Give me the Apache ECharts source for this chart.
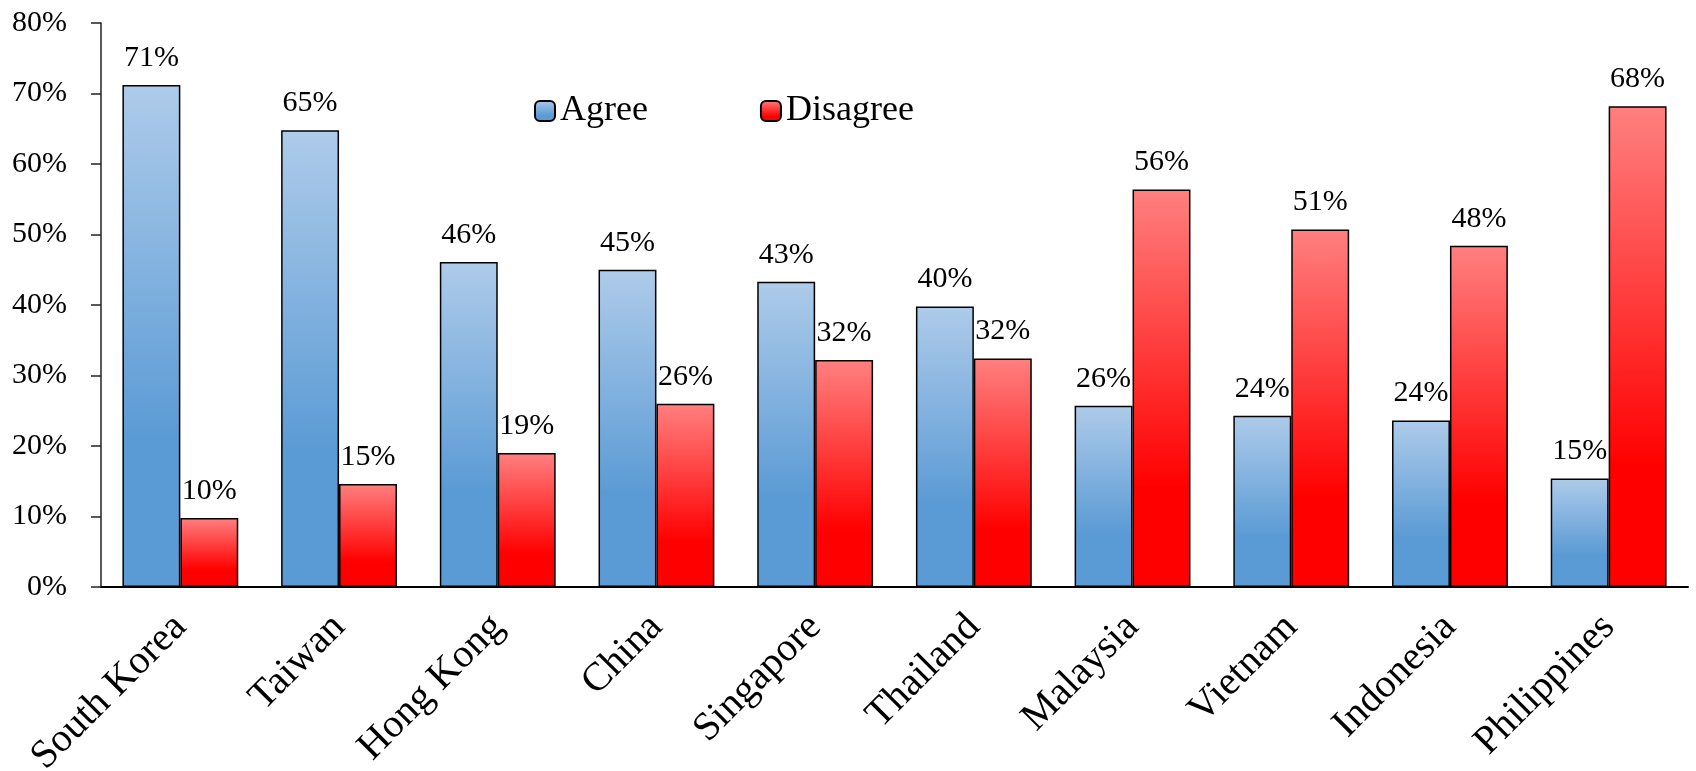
<!DOCTYPE html>
<html>
<head>
<meta charset="utf-8">
<script src="https://cdn.jsdelivr.net/npm/echarts@6/dist/echarts.min.js"></script>
<style>html,body{margin:0;padding:0;background:#fff}#c{width:1696px;height:771px}</style>
</head>
<body>
<div id="c"></div>
<script>
const categories = ['South Korea','Taiwan','Hong Kong','China','Singapore','Thailand','Malaysia','Vietnam','Indonesia','Philippines'];
const agree = [71.2, 64.8, 46.1, 45.0, 43.3, 39.8, 25.7, 24.3, 23.6, 15.4];
const disagree = [9.8, 14.6, 19.0, 26.0, 32.2, 32.4, 56.4, 50.7, 48.4, 68.2];
const yTicks = [0,10,20,30,40,50,60,70,80];

const FONT = '"Liberation Serif", serif';
const blueGrad = new echarts.graphic.LinearGradient(0,0,0,1,[
  {offset:0,color:'#aecbea'},{offset:0.7,color:'#5b9bd5'},{offset:1,color:'#5b9bd5'}]);
const redGrad = new echarts.graphic.LinearGradient(0,0,0,1,[
  {offset:0,color:'#ff8080'},{offset:0.75,color:'#ff0000'},{offset:1,color:'#ff0000'}]);

const labelCfg = {
  show:true, position:'top', distance:12, color:'#000',
  fontFamily:FONT, fontSize:30,
  formatter: p => Math.round(p.value) + '%'
};

const chart = echarts.init(document.getElementById('c'));
chart.setOption({
  animation:false,
  grid:{left:101, right:8, top:23, bottom:184, containLabel:false, outerBoundsMode:'none'},
  legend:{
    left:529, top:88, itemWidth:20, itemHeight:20, itemGap:112,
    textStyle:{fontFamily:FONT, fontSize:36, color:'#000'},
    data:['Agree','Disagree']
  },
  xAxis:{
    type:'category', data:categories,
    axisLine:{lineStyle:{color:'#000', width:2}},
    axisTick:{show:false},
    axisLabel:{rotate:45, margin:34, color:'#000', fontFamily:FONT, fontSize:40, interval:0}
  },
  yAxis:{
    type:'value', min:yTicks[0], max:yTicks[yTicks.length-1], interval:10,
    splitLine:{show:false},
    axisLine:{show:true, lineStyle:{color:'#222', width:1.5}},
    axisTick:{show:true, length:10, lineStyle:{color:'#222', width:1.5}},
    axisLabel:{margin:34, color:'#000', fontFamily:FONT, fontSize:30, formatter: v => v + '%'}
  },
  series:[
    {name:'Agree', type:'bar', data:agree, barGap:'0%', barCategoryGap:'27%',
     itemStyle:{color:blueGrad, borderColor:'#000', borderWidth:1.5}, label:labelCfg},
    {name:'Disagree', type:'bar', data:disagree,
     itemStyle:{color:redGrad, borderColor:'#000', borderWidth:1.5}, label:labelCfg}
  ]
});
</script>
</body>
</html>
